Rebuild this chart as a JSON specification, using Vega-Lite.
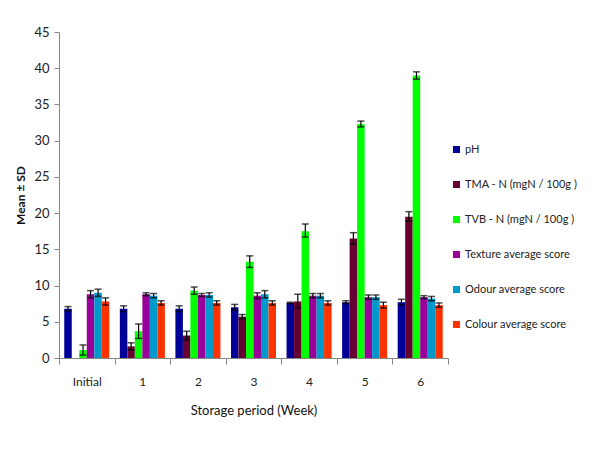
{
  "$schema": "https://vega.github.io/schema/vega-lite/v6.json",
  "width": 389,
  "height": 326,
  "autosize": {"type": "none"},
  "padding": {"left": 59, "top": 32, "right": 160, "bottom": 94},
  "background": "white",
  "config": {
    "font": "Lato",
    "view": {"stroke": null},
    "axis": {"grid": false, "domainColor": "#868686", "tickColor": "#868686", "labelColor": "#222", "titleColor": "#111", "labelFont": "Lato", "titleFont": "Lato"},
    "axisY": {"values": [0, 5, 10, 15, 20, 25, 30, 35, 40, 45], "labelOverlap": false, "tickSize": 5, "labelPadding": 5, "labelFontSize": 13, "titleFontSize": 12, "titleFontWeight": "bold", "titlePadding": 6}
  },
  "data": {
    "values": [
      {"week": "Initial", "s": "pH", "v": 6.8, "lo": 6.5, "hi": 7.1},
      {"week": "Initial", "s": "TMA - N (mgN / 100g )", "v": 0, "lo": null, "hi": null},
      {"week": "Initial", "s": "TVB - N (mgN / 100g )", "v": 1.1, "lo": 0.4, "hi": 1.8},
      {"week": "Initial", "s": "Texture average score", "v": 8.8, "lo": 8.3, "hi": 9.3},
      {"week": "Initial", "s": "Odour average score", "v": 9.0, "lo": 8.5, "hi": 9.5},
      {"week": "Initial", "s": "Colour average  score", "v": 7.8, "lo": 7.3, "hi": 8.3},
      {"week": "1", "s": "pH", "v": 6.8, "lo": 6.4, "hi": 7.2},
      {"week": "1", "s": "TMA - N (mgN / 100g )", "v": 1.6, "lo": 1.1, "hi": 2.1},
      {"week": "1", "s": "TVB - N (mgN / 100g )", "v": 3.7, "lo": 2.7, "hi": 4.7},
      {"week": "1", "s": "Texture average score", "v": 8.8, "lo": 8.6, "hi": 9.0},
      {"week": "1", "s": "Odour average score", "v": 8.6, "lo": 8.3, "hi": 8.9},
      {"week": "1", "s": "Colour average  score", "v": 7.6, "lo": 7.3, "hi": 7.9},
      {"week": "2", "s": "pH", "v": 6.8, "lo": 6.4, "hi": 7.2},
      {"week": "2", "s": "TMA - N (mgN / 100g )", "v": 3.1, "lo": 2.5, "hi": 3.7},
      {"week": "2", "s": "TVB - N (mgN / 100g )", "v": 9.3, "lo": 8.8, "hi": 9.8},
      {"week": "2", "s": "Texture average score", "v": 8.7, "lo": 8.5, "hi": 8.9},
      {"week": "2", "s": "Odour average score", "v": 8.7, "lo": 8.4, "hi": 9.0},
      {"week": "2", "s": "Colour average  score", "v": 7.6, "lo": 7.3, "hi": 7.9},
      {"week": "3", "s": "pH", "v": 7.0, "lo": 6.6, "hi": 7.4},
      {"week": "3", "s": "TMA - N (mgN / 100g )", "v": 5.7, "lo": 5.4, "hi": 6.0},
      {"week": "3", "s": "TVB - N (mgN / 100g )", "v": 13.3, "lo": 12.5, "hi": 14.1},
      {"week": "3", "s": "Texture average score", "v": 8.6, "lo": 8.2, "hi": 9.0},
      {"week": "3", "s": "Odour average score", "v": 8.8, "lo": 8.3, "hi": 9.3},
      {"week": "3", "s": "Colour average  score", "v": 7.6, "lo": 7.3, "hi": 7.9},
      {"week": "4", "s": "pH", "v": 7.6, "lo": 7.5, "hi": 7.7},
      {"week": "4", "s": "TMA - N (mgN / 100g )", "v": 7.8, "lo": 6.9, "hi": 8.8},
      {"week": "4", "s": "TVB - N (mgN / 100g )", "v": 17.5, "lo": 16.7, "hi": 18.5},
      {"week": "4", "s": "Texture average score", "v": 8.6, "lo": 8.3, "hi": 8.9},
      {"week": "4", "s": "Odour average score", "v": 8.6, "lo": 8.3, "hi": 8.9},
      {"week": "4", "s": "Colour average  score", "v": 7.6, "lo": 7.3, "hi": 7.9},
      {"week": "5", "s": "pH", "v": 7.7, "lo": 7.5, "hi": 7.9},
      {"week": "5", "s": "TMA - N (mgN / 100g )", "v": 16.5, "lo": 15.7, "hi": 17.3},
      {"week": "5", "s": "TVB - N (mgN / 100g )", "v": 32.3, "lo": 31.9, "hi": 32.7},
      {"week": "5", "s": "Texture average score", "v": 8.4, "lo": 8.1, "hi": 8.7},
      {"week": "5", "s": "Odour average score", "v": 8.4, "lo": 8.1, "hi": 8.7},
      {"week": "5", "s": "Colour average  score", "v": 7.3, "lo": 6.9, "hi": 7.7},
      {"week": "6", "s": "pH", "v": 7.7, "lo": 7.3, "hi": 8.1},
      {"week": "6", "s": "TMA - N (mgN / 100g )", "v": 19.5, "lo": 18.9, "hi": 20.2},
      {"week": "6", "s": "TVB - N (mgN / 100g )", "v": 39.0, "lo": 38.5, "hi": 39.5},
      {"week": "6", "s": "Texture average score", "v": 8.4, "lo": 8.2, "hi": 8.6},
      {"week": "6", "s": "Odour average score", "v": 8.2, "lo": 7.9, "hi": 8.5},
      {"week": "6", "s": "Colour average  score", "v": 7.3, "lo": 7.0, "hi": 7.6}
    ]
  },
  "encoding": {
    "x": {
      "field": "week", "type": "nominal", "sort": null,
      "scale": {"paddingInner": 0, "paddingOuter": 0},
      "axis": {"title": "Storage  period (Week)", "labelAngle": 0, "tickBand": "extent", "tickSize": 6, "labelPadding": 12, "labelFontSize": 12, "titleFontSize": 13, "titleFontWeight": "normal", "titlePadding": 17}
    },
    "xOffset": {
      "field": "s", "type": "nominal",
      "sort": ["pH", "TMA - N (mgN / 100g )", "TVB - N (mgN / 100g )", "Texture average score", "Odour average score", "Colour average  score"],
      "scale": {"paddingInner": 0, "paddingOuter": 0.7}
    }
  },
  "layer": [
    {
      "mark": {"type": "bar"},
      "encoding": {
        "y": {"field": "v", "type": "quantitative", "title": "Mean ± SD", "scale": {"domain": [0, 45], "nice": false}},
        "color": {
          "field": "s", "type": "nominal",
          "sort": ["pH", "TMA - N (mgN / 100g )", "TVB - N (mgN / 100g )", "Texture average score", "Odour average score", "Colour average  score"],
          "scale": {"range": ["#000099", "#660033", "#00FF00", "#990099", "#0099CC", "#FF3300"]},
          "legend": {"title": null, "orient": "none", "legendX": 392, "legendY": 112, "symbolType": "square", "symbolSize": 50, "symbolStrokeWidth": 0, "labelFontSize": 11, "labelColor": "#222", "rowPadding": 23, "labelOffset": 3}
        }
      }
    },
    {
      "mark": {"type": "rule", "color": "black", "strokeWidth": 1.2},
      "encoding": {
        "y": {"field": "lo", "type": "quantitative", "title": "Mean ± SD", "scale": {"domain": [0, 45], "nice": false}},
        "y2": {"field": "hi"}
      }
    },
    {
      "mark": {"type": "tick", "color": "black", "size": 7, "thickness": 1.5},
      "encoding": {"y": {"field": "lo", "type": "quantitative", "title": "Mean ± SD", "scale": {"domain": [0, 45], "nice": false}}}
    },
    {
      "mark": {"type": "tick", "color": "black", "size": 7, "thickness": 1.5},
      "encoding": {"y": {"field": "hi", "type": "quantitative", "title": "Mean ± SD", "scale": {"domain": [0, 45], "nice": false}}}
    }
  ]
}
